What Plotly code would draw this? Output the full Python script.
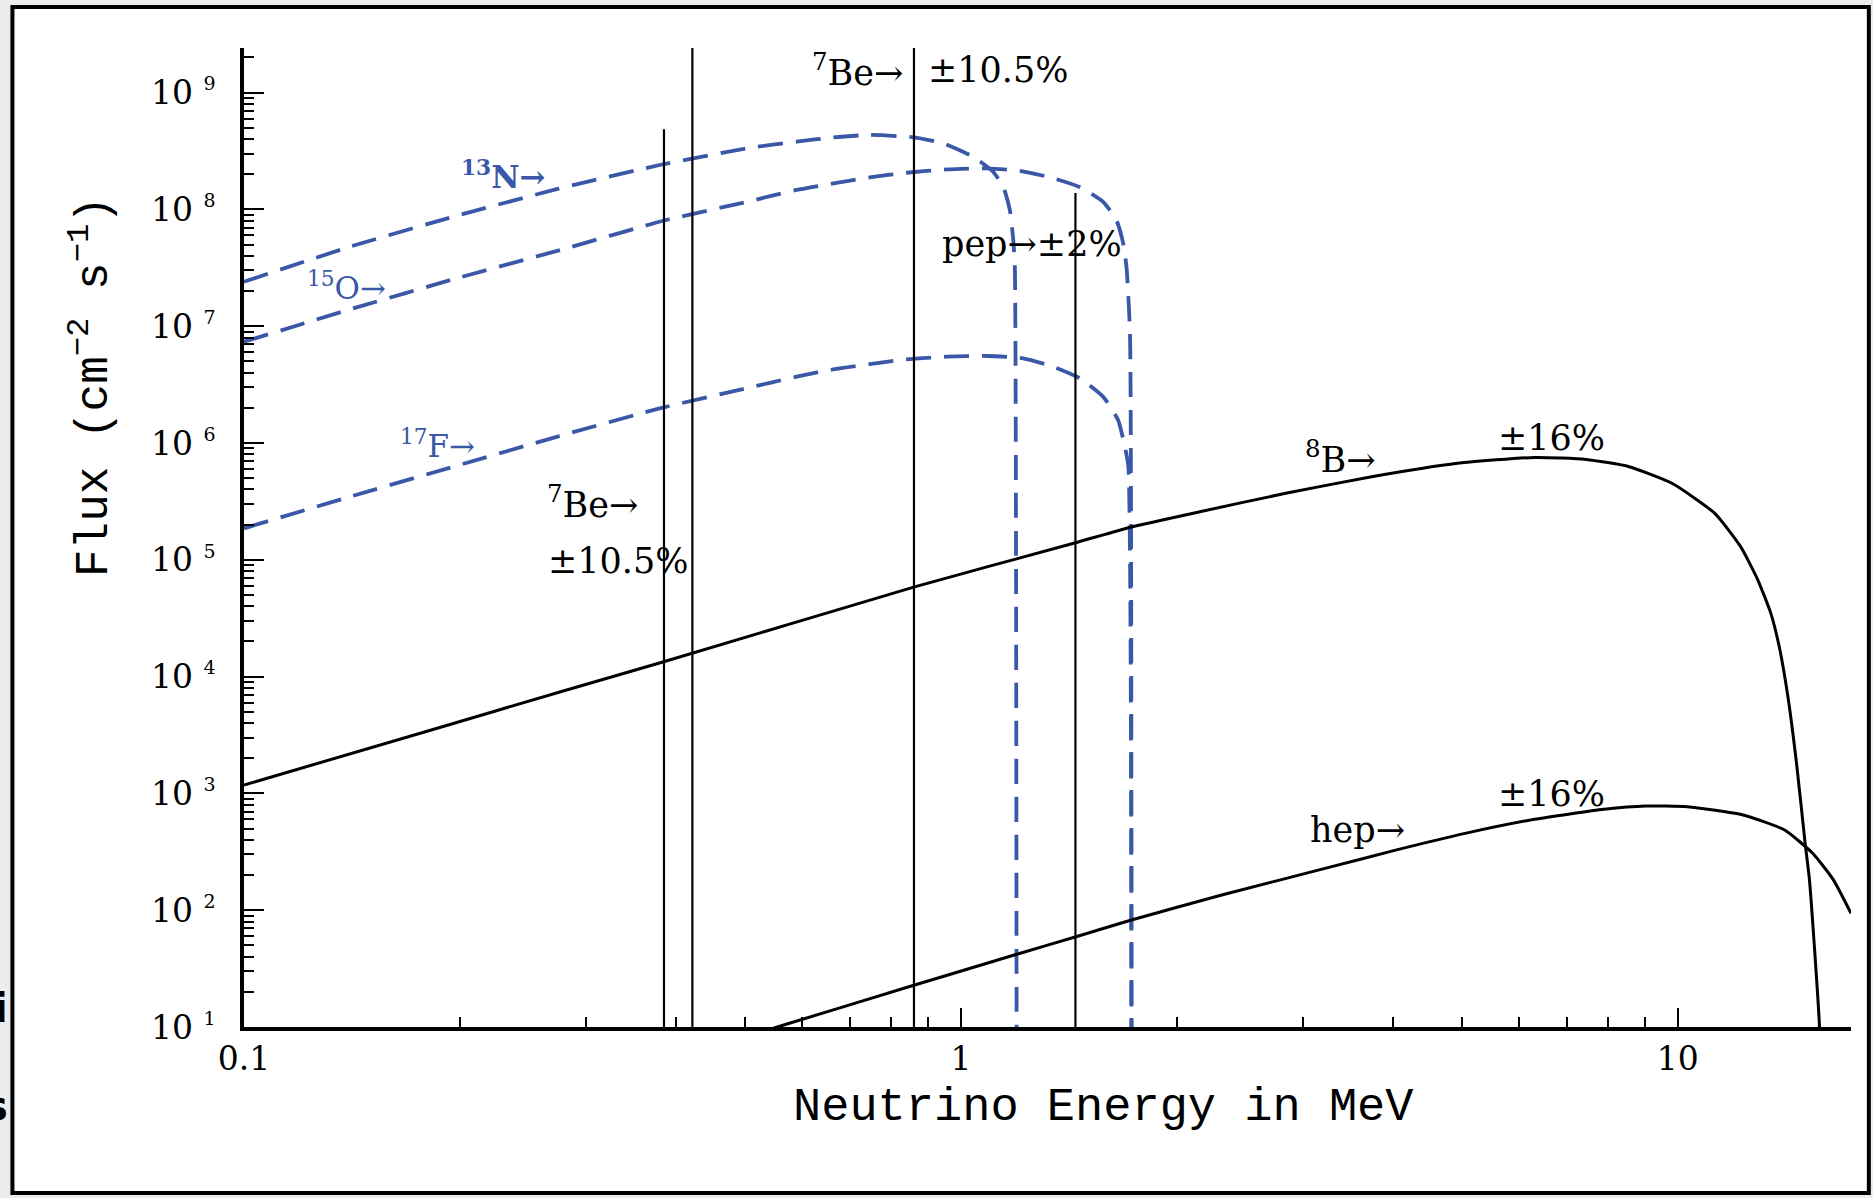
import plotly.graph_objects as go

# ---------------- data ----------------
n13_E = [0.100, 0.1406, 0.196, 0.273, 0.380, 0.502, 0.590, 0.664, 0.746, 0.858, 0.945,
         1.040, 1.109, 1.146, 1.170, 1.183, 1.189, 1.196]
n13_F = [2.40e7, 4.80e7, 8.67e7, 1.49e8, 2.40e8, 3.33e8, 3.80e8, 4.14e8, 4.34e8, 4.14e8, 3.68e8,
         2.82e8, 2.10e8, 1.56e8, 9.9e7, 5.5e7, 3.2e7, 1.0]

o15_E = [0.100, 0.142, 0.198, 0.276, 0.3845, 0.5024, 0.590, 0.664, 0.746, 0.840, 0.955, 1.086,
         1.209, 1.345, 1.466, 1.579, 1.648, 1.684, 1.702, 1.721, 1.729]
o15_F = [7.36e6, 1.42e7, 2.57e7, 4.49e7, 8.0e7, 1.16e8, 1.47e8, 1.67e8, 1.88e8, 2.06e8, 2.20e8, 2.25e8,
         2.14e8, 1.85e8, 1.55e8, 1.16e8, 8.1e7, 5.1e7, 3.2e7, 8.7e6, 1.0]

f17_E = [0.100, 0.1406, 0.196, 0.273, 0.380, 0.502, 0.590, 0.664, 0.746, 0.840, 0.955, 1.086,
         1.221, 1.345, 1.466, 1.579, 1.657, 1.693, 1.712, 1.730]
f17_F = [1.86e5, 3.47e5, 6.27e5, 1.13e6, 1.98e6, 2.94e6, 3.70e6, 4.28e6, 4.74e6, 5.20e6, 5.48e6, 5.56e6,
         5.31e6, 4.50e6, 3.58e6, 2.49e6, 1.57e6, 9.3e5, 6.3e5, 1.0]

b8_E = [0.100, 0.181, 0.278, 0.385, 0.864, 1.445, 1.735, 2.154, 2.838, 3.74, 4.925, 6.314, 7.447,
        8.551, 9.813, 11.26, 12.24, 12.93, 13.48, 13.85, 14.24, 14.64, 15.05, 15.26, 15.76, 15.85]
b8_F = [1.18e3, 3.44e3, 7.5e3, 1.34e4, 5.89e4, 1.40e5, 1.92e5, 2.58e5, 3.71e5, 5.14e5, 6.70e5, 7.53e5,
        7.24e5, 6.27e5, 4.52e5, 2.50e5, 1.29e5, 6.71e4, 3.48e4, 1.80e4, 6.73e3, 1.81e3, 374, 182, 10, 1]

hep_E = [0.5, 0.566, 0.846, 1.21, 1.447, 1.729, 2.311, 3.23, 4.04, 5.05, 6.31, 7.89, 9.02, 10.31,
         12.33, 14.09, 15.42, 16.48, 17.44]
hep_F = [8.2, 10.4, 22.1, 42.8, 59.3, 82.4, 135, 229, 327, 455, 600, 731, 780, 769,
         653, 486, 307, 182, 94]

# line sources (7Be 0.384, pp edge, 7Be 0.862, pep)
line_E = [0.3853, 0.4221, 0.860, 1.4445]
line_top = [4.86e8, 3e9, 3e9, 1.38e8]
line_bottom = 10

y_tick_vals = [10 ** k for k in range(1, 10)]
y_tick_text = ["10 <sup><span style='font-size:19px'>%d</span></sup>" % k for k in range(1, 10)]
x_tick_vals = [0.1, 1, 10]
x_tick_text = ["0.1", "1", "10"]

BLUE = "#3a57a8"
SERIF = "DejaVu Serif"
MONO = "Liberation Mono"

fig = go.Figure()

for E, F in [(n13_E, n13_F), (o15_E, o15_F), (f17_E, f17_F)]:
    fig.add_trace(go.Scatter(x=E, y=F, mode="lines",
                             line=dict(color=BLUE, width=3.8, dash="25px,13px",
                                       shape="spline", smoothing=0.5),
                             hoverinfo="skip", showlegend=False))

for E, F in [(b8_E, b8_F), (hep_E, hep_F)]:
    fig.add_trace(go.Scatter(x=E, y=F, mode="lines",
                             line=dict(color="black", width=3, shape="spline", smoothing=0.5),
                             hoverinfo="skip", showlegend=False))

for e, top in zip(line_E, line_top):
    fig.add_trace(go.Scatter(x=[e, e], y=[line_bottom, top], mode="lines",
                             line=dict(color="black", width=2.2),
                             hoverinfo="skip", showlegend=False))

# minor tick positions
y_minor = [m * 10 ** k for k in range(1, 10) for m in range(2, 10)]
x_minor = [m * 10 ** k for k in range(-1, 2) for m in range(2, 10)]

fig.update_xaxes(type="log", range=[-1, 1.2415], showline=True, linewidth=3.5, linecolor="black",
                 showgrid=False, zeroline=False, mirror=False,
                 ticks="inside", ticklen=19, tickwidth=2.2, tickcolor="black",
                 tickmode="array", tickvals=x_tick_vals, ticktext=x_tick_text,
                 tickfont=dict(family=SERIF, size=33, color="black"),
                 ticklabelstandoff=0,
                 minor=dict(ticks="inside", ticklen=10, tickwidth=2, tickcolor="black",
                            tickmode="array", tickvals=x_minor, showgrid=False))
fig.update_yaxes(type="log", range=[1, 9.382], showline=True, linewidth=3.5, linecolor="black",
                 showgrid=False, zeroline=False, mirror=False,
                 ticks="inside", ticklen=20, tickwidth=2.2, tickcolor="black",
                 tickmode="array", tickvals=y_tick_vals, ticktext=y_tick_text,
                 tickfont=dict(family=SERIF, size=33, color="black"),
                 ticklabelstandoff=18,
                 minor=dict(ticks="inside", ticklen=10, tickwidth=2, tickcolor="black",
                            tickmode="array", tickvals=y_minor, showgrid=False))

def lbl(text, lx, ly, size=35, color="black", bold=False, family=SERIF):
    fig.add_annotation(x=lx, y=ly, xref="x", yref="y", text=("<b>%s</b>" % text) if bold else text,
                       showarrow=False, xanchor="center", yanchor="middle",
                       font=dict(family=family, size=size, color=color))

# labels (positions in log10 units)
lbl("<sup>13</sup>N→", -0.6374, 8.295, size=31, color=BLUE, bold=True)
lbl("<sup>15</sup>O→", -0.8577, 7.344, size=31, color=BLUE)
lbl("<sup>17</sup>F→", -0.7301, 5.991, size=31, color=BLUE)
lbl("<sup>7</sup>Be→", -0.514, 5.495)
lbl("±10.5%", -0.477, 4.99)
lbl("<sup>7</sup>Be→", -0.1437, 9.194)
lbl("±10.5%", 0.053, 9.194)
lbl("pep→±2%", 0.0986, 7.704)
lbl("<sup>8</sup>B→", 0.5293, 5.884)
lbl("±16%", 0.8236, 6.039)
lbl("hep→", 0.553, 2.687)
lbl("±16%", 0.8236, 2.995)

# axis titles
fig.add_annotation(x=0.535, y=-0.0827, xref="paper", yref="paper", showarrow=False,
                   text="Neutrino Energy in MeV", xanchor="center", yanchor="middle",
                   font=dict(family=MONO, size=47, color="black"))
fig.add_annotation(x=-0.0952, y=0.6537, xref="paper", yref="paper", showarrow=False,
                   text="Flux (cm<sup>−2</sup> s<sup>−1</sup>)", textangle=-90,
                   xanchor="center", yanchor="middle",
                   font=dict(family=MONO, size=46, color="black"))

# fragments of text cut by the picture edge (left)
for t, yp in [("i", 1008), ("s", 1106)]:
    fig.add_annotation(x=-0.1456, y=(1027 - yp) / 979, xref="paper", yref="paper", showarrow=False,
                       text="<b>%s</b>" % t, xanchor="right", yanchor="middle",
                       font=dict(family="DejaVu Sans", size=40, color="black"))

# outer frame of the picture
fig.add_shape(type="rect", xref="paper", yref="paper", x0=-0.1441, x1=1.0111, y0=-0.1696, y1=1.0419,
              line=dict(color="black", width=4), fillcolor="white", layer="below")

fig.update_layout(width=1873, height=1198, margin=dict(l=244, r=22, t=48, b=171, autoexpand=False),
                  paper_bgcolor="#ececec", plot_bgcolor="rgba(0,0,0,0)", showlegend=False)

fig.write_html("out.html", config={"displayModeBar": False},
               post_script="document.body.style.margin='0';")
